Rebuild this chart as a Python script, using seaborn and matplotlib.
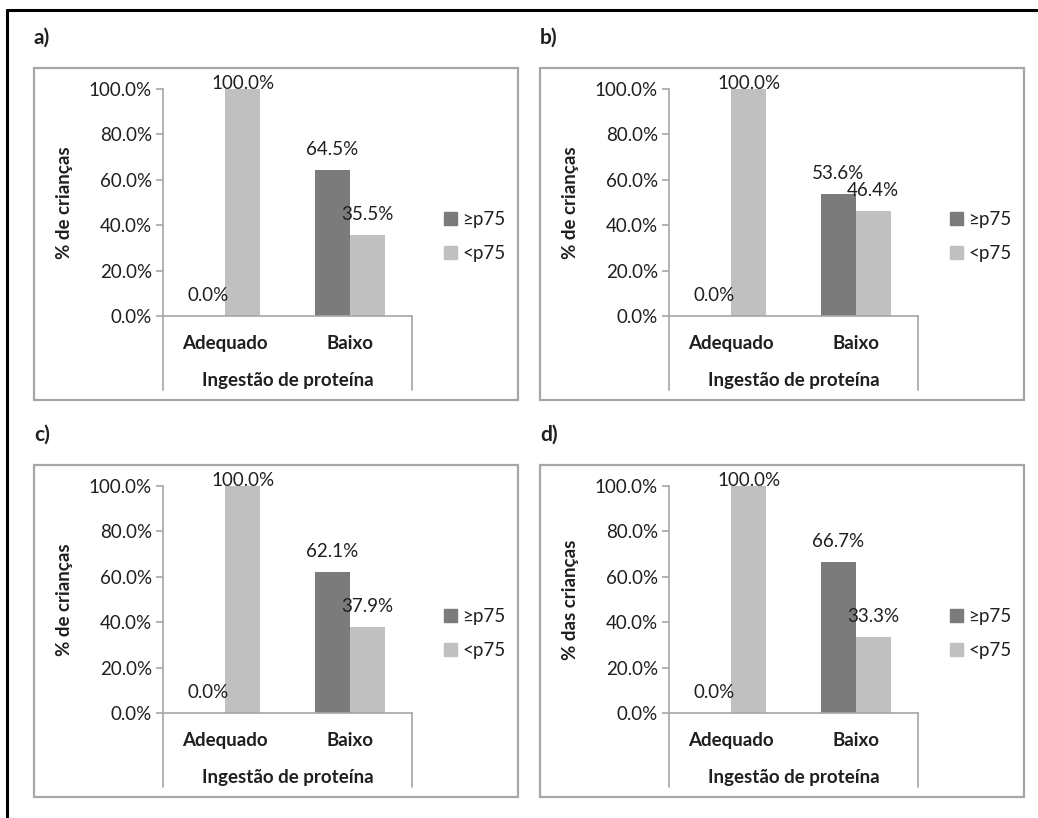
import pandas as pd
import matplotlib
matplotlib.use('Agg')
import seaborn as sns
import matplotlib.pyplot as plt
from matplotlib.patches import Rectangle
from matplotlib.lines import Line2D

# Data
categorias = ['Adequado', 'Baixo']
grupos = ['≥p75', '<p75']
painel_letras = ['a)', 'b)', 'c)', 'd)']
acima_p75 = [[0.0, 64.5], [0.0, 53.6], [0.0, 62.1], [0.0, 66.7]]
abaixo_p75 = [[100.0, 35.5], [100.0, 46.4], [100.0, 37.9], [100.0, 33.3]]
ylabels = ['% de crianças', '% de crianças', '% de crianças', '% das crianças']
xlabel = 'Ingestão de proteína'
yticks = [0, 20, 40, 60, 80, 100]

cores = {'≥p75': '#7b7b7b', '<p75': '#c0c0c0'}
cinza = '#a6a6a6'
texto = '#1f1f1f'
fs = 13.5

sns.set_style('white')
plt.rcParams['font.family'] = ['Lato', 'DejaVu Sans']
plt.rcParams['font.size'] = fs

W, H = 1038, 818
fig = plt.figure(figsize=(W / 100, H / 100), dpi=100)
fig.patch.set_facecolor('white')

# outer black frame (top and left only)
fig.add_artist(Line2D([7 / W, 7 / W], [0, 1 - 10 / H], color='black', lw=2.2))
fig.add_artist(Line2D([7 / W, 1], [1 - 10 / H, 1 - 10 / H], color='black', lw=2.2))

# pixel offsets of each panel (top-left of panel a as reference)
offsets = [(0, 0), (506, 0), (0, 397), (506, 397)]

for i, (dx, dy) in enumerate(offsets):
    # grey chart-area box
    bx, by, bw, bh = 34 + dx, 68 + dy, 484, 332
    fig.add_artist(Rectangle((bx / W, 1 - (by + bh) / H), bw / W, bh / H,
                             transform=fig.transFigure, fill=False,
                             edgecolor=cinza, lw=1.6))
    fig.text((34 + dx) / W, 1 - (38 + dy) / H, painel_letras[i],
             fontsize=15, fontweight='bold', color=texto, ha='left', va='center')

    ax_l, ax_t, ax_w, ax_h = 163 + dx, 89 + dy, 249, 227
    ax = fig.add_axes([ax_l / W, 1 - (ax_t + ax_h) / H, ax_w / W, ax_h / H])

    df = pd.DataFrame({
        'ingestao': categorias * 2,
        'grupo': [grupos[0]] * 2 + [grupos[1]] * 2,
        'pct': acima_p75[i] + abaixo_p75[i],
    })
    sns.barplot(data=df, x='ingestao', y='pct', hue='grupo', hue_order=grupos,
                order=categorias, palette=cores, width=0.56, linewidth=0,
                errorbar=None, ax=ax)

    for cont in ax.containers:
        for p in cont:
            h = p.get_height()
            y = min(h + 9.0, 102.4)
            ax.text(p.get_x() + p.get_width() / 2, y, f'{h:.1f}%',
                    ha='center', va='center', fontsize=fs, color=texto)

    ax.set_xlim(-0.5, 1.5)
    ax.set_ylim(0, 100)
    ax.set_yticks(yticks)
    ax.set_yticklabels([f'{v:.1f}%' for v in yticks])
    for s in ['top', 'right']:
        ax.spines[s].set_visible(False)
    for s in ['left', 'bottom']:
        ax.spines[s].set_color(cinza)
        ax.spines[s].set_linewidth(1.2)
    ax.tick_params(axis='y', length=5, width=1.2, color=cinza, colors=texto,
                   labelsize=fs, pad=3, left=True)
    ax.tick_params(axis='x', length=0, pad=14, labelsize=fs, colors=texto)
    for lab in ax.get_xticklabels():
        lab.set_fontweight('bold')

    # category axis side lines extending below the plot
    ext = -74 / ax_h
    ax.plot([0, 0], [0, ext], transform=ax.transAxes, color=cinza, lw=1.2, clip_on=False)
    ax.plot([1, 1], [0, ext], transform=ax.transAxes, color=cinza, lw=1.2, clip_on=False)

    ax.set_xlabel(xlabel, fontsize=fs, fontweight='bold', color=texto)
    ax.xaxis.set_label_coords(0.5, -0.245)
    ax.set_ylabel(ylabels[i], fontsize=fs, fontweight='bold', color=texto)
    ax.yaxis.set_label_coords(-0.36, 0.5)

    leg_handles = [Rectangle((0, 0), 1, 1, color=cores[g]) for g in grupos]
    ax.legend(leg_handles, grupos, frameon=False, loc='center left',
              bbox_to_anchor=(1.06, 0.35), handlelength=0.7, handleheight=0.7,
              handletextpad=0.3, labelspacing=0.9, fontsize=fs,
              labelcolor=texto)

fig.savefig('out.png', dpi=100, facecolor='white')
